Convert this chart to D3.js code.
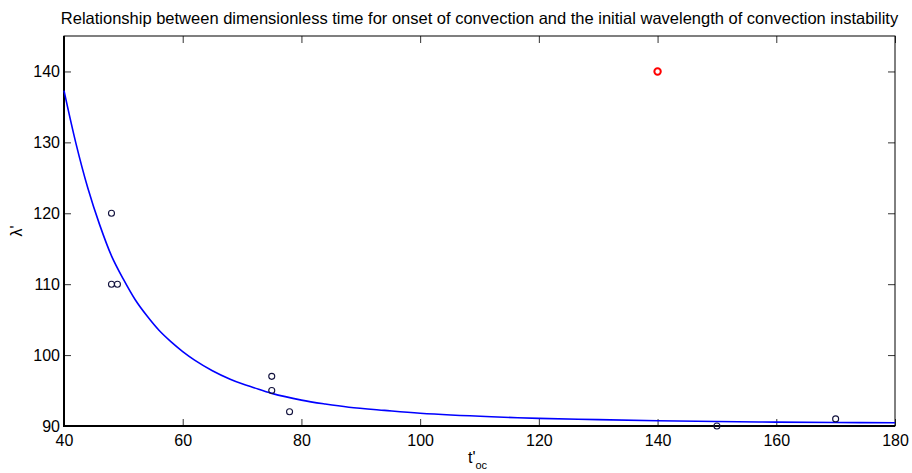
<!DOCTYPE html>
<html>
<head>
<meta charset="utf-8">
<script src="https://cdn.jsdelivr.net/npm/d3@7"></script>
<style>
  body { margin: 0; background: #fff; }
  svg { display: block; font-family: "Liberation Sans", Arial, sans-serif; }
</style>
</head>
<body>
<div id="chart"></div>
<script>
// measured points (t'oc, lambda')
const pointT = [48, 48, 49, 75, 75, 78, 150, 170];
const pointL = [120, 110, 110, 97, 95, 92, 90, 91];
// outlier shown in red
const redT = [140];
const redL = [140];
// fitted curve
const fitT = [40, 42, 44, 46, 48, 50, 52, 54, 56, 58, 60, 62, 65, 68, 70, 72, 75, 80, 84, 88, 94, 100, 112, 120, 130, 140, 150, 160, 170, 180];
const fitL = [137.3, 129.9, 123.6, 118.4, 114.0, 110.7, 107.8, 105.5, 103.5, 101.9, 100.5, 99.3, 97.8, 96.6, 95.95, 95.4, 94.6, 93.65, 93.1, 92.65, 92.2, 91.8, 91.3, 91.08, 90.9, 90.74, 90.63, 90.55, 90.5, 90.45];

const xTicks = [40, 60, 80, 100, 120, 140, 160, 180];
const yTicks = [90, 100, 110, 120, 130, 140];

const width = 912, height = 473;
const margin = {top: 36, right: 17, bottom: 47, left: 64};

const svg = d3.select("#chart").append("svg")
    .attr("width", width)
    .attr("height", height);

const x = d3.scaleLinear().domain([40, 180]).range([margin.left, width - margin.right]);
const y = d3.scaleLinear().domain([90, 145]).range([height - margin.bottom, margin.top]);

const tickLen = 7;

// ticks on all four sides, pointing inward
svg.append("g")
    .attr("transform", `translate(0,${y(90)})`)
    .call(d3.axisBottom(x).tickValues(xTicks).tickSize(-tickLen).tickPadding(9).tickFormat(d3.format("d")))
    .call(g => g.select(".domain").remove());
svg.append("g")
    .attr("transform", `translate(0,${y(145)})`)
    .call(d3.axisTop(x).tickValues(xTicks).tickSize(-tickLen).tickFormat(""))
    .call(g => g.select(".domain").remove());
svg.append("g")
    .attr("transform", `translate(${x(40)},0)`)
    .call(d3.axisLeft(y).tickValues(yTicks).tickSize(-tickLen).tickPadding(4).tickFormat(d3.format("d")))
    .call(g => g.select(".domain").remove());
svg.append("g")
    .attr("transform", `translate(${x(180)},0)`)
    .call(d3.axisRight(y).tickValues(yTicks).tickSize(-tickLen).tickFormat(""))
    .call(g => g.select(".domain").remove());

svg.selectAll(".tick line").attr("stroke", "#333");
svg.selectAll(".tick text")
    .attr("fill", "#000")
    .style("font-size", "16px")
    .style("font-family", "Liberation Sans, Arial, sans-serif");

// box
svg.append("rect")
    .attr("x", x(40)).attr("y", y(145))
    .attr("width", x(180) - x(40)).attr("height", y(90) - y(145))
    .attr("fill", "none").attr("stroke", "#000").attr("stroke-width", 1);
svg.append("path")
    .attr("d", `M${x(40)},${y(145)}V${y(90)}H${x(180)}`)
    .attr("fill", "none").attr("stroke", "#000").attr("stroke-width", 2);

// fitted curve
const line = d3.line()
    .x(d => x(d[0]))
    .y(d => y(d[1]))
    .curve(d3.curveCatmullRom);
svg.append("path")
    .datum(fitT.map((t, i) => [t, fitL[i]]))
    .attr("d", line)
    .attr("fill", "none")
    .attr("stroke", "#0000ff")
    .attr("stroke-width", 1.6);

// points
svg.append("g")
    .selectAll("circle")
    .data(pointT.map((t, i) => [t, pointL[i]]))
    .join("circle")
    .attr("cx", d => x(d[0]))
    .attr("cy", d => y(d[1]))
    .attr("r", 3)
    .attr("fill", "none")
    .attr("stroke", "#10103c")
    .attr("stroke-width", 1.1);

svg.append("g")
    .selectAll("circle")
    .data(redT.map((t, i) => [t, redL[i]]))
    .join("circle")
    .attr("cx", d => x(d[0]))
    .attr("cy", d => y(d[1]))
    .attr("r", 3.2)
    .attr("fill", "none")
    .attr("stroke", "#ff0000")
    .attr("stroke-width", 2);

// title
svg.append("text")
    .attr("x", (x(40) + x(180)) / 2)
    .attr("y", 24)
    .attr("text-anchor", "middle")
    .style("font-size", "16.5px")
    .text("Relationship between dimensionless time for onset of convection and the initial wavelength of convection instability");

// axis labels
const xl = svg.append("text")
    .attr("x", 468)
    .attr("y", 463)
    .style("font-size", "16px");
xl.append("tspan").text("t'");
xl.append("tspan").attr("dy", 6).style("font-size", "11px").text("oc");

svg.append("text")
    .attr("transform", `translate(22,${(y(90) + y(145)) / 2}) rotate(-90)`)
    .attr("text-anchor", "middle")
    .style("font-size", "16px")
    .text("λ'");
</script>
</body>
</html>
